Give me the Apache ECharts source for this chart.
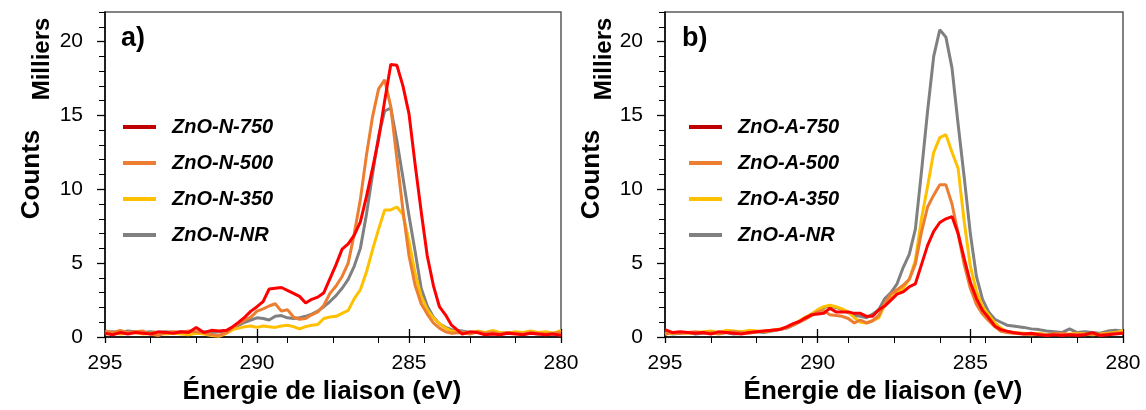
<!DOCTYPE html>
<html>
<head>
<meta charset="utf-8">
<script src="https://cdn.jsdelivr.net/npm/echarts@6.0.0/dist/echarts.min.js"></script>
<style>html,body{margin:0;padding:0;background:#fff;}#chart{width:1146px;height:410px;}</style>
</head>
<body>
<div id="chart"></div>
<script>
// Binding energy grid (eV)
const energy = [295,294.75,294.5,294.25,294,293.75,293.5,293.25,293,292.75,292.5,292.25,292,291.75,291.5,291.25,
  291,290.8,290.6,290.4,290.2,290,289.8,289.6,289.4,289.2,289,288.8,288.6,288.4,288.2,288,287.8,287.6,287.4,287.2,
  287,286.8,286.6,286.4,286.2,286,285.8,285.6,285.4,285.2,285,284.8,284.6,284.4,284.2,284,283.8,283.6,
  283.25,283,282.75,282.5,282.25,282,281.75,281.5,281.25,281,280.75,280.5,280.25,280];

// Panel a) ZnO-N (thousands of counts)
const n750 = [0.25,0.15,0.3,0.2,0.3,0.25,0.2,0.35,0.3,0.25,0.35,0.3,0.65,0.3,0.45,0.4,
  0.45,0.7,1.0,1.35,1.75,2.05,2.4,3.25,3.3,3.35,3.15,2.95,2.75,2.3,2.55,2.7,3.0,3.95,4.9,5.95,
  6.3,6.9,7.8,9.5,11.4,13.4,16.0,18.45,18.4,17.0,15.1,11.7,8.5,5.5,3.5,2.05,1.5,0.8,
  0.2,0.35,0.3,0.15,0.2,0.15,0.25,0.2,0.15,0.25,0.2,0.15,0.2,0.1];
const n500 = [0.4,0.3,0.45,0.3,0.35,0.4,0.2,0.1,0.3,0.35,0.3,0.4,0.35,0.3,0.15,0.1,
  0.3,0.65,0.9,1.15,1.35,1.75,1.9,2.1,2.25,1.75,1.85,1.35,1.2,1.25,1.5,1.7,2.15,2.95,3.45,4.1,
  5.0,7.0,9.3,12.3,14.9,16.8,17.4,15.6,12.1,8.6,5.5,3.5,2.25,1.55,0.95,0.6,0.35,0.25,
  0.3,0.2,0.35,0.25,0.3,0.2,0.3,0.25,0.2,0.3,0.25,0.2,0.25,0.3];
const n350 = [0.2,0.3,0.2,0.25,0.3,0.2,0.25,0.3,0.2,0.25,0.2,0.15,0.25,0.2,0.1,0.05,
  0.25,0.5,0.6,0.7,0.75,0.65,0.75,0.7,0.65,0.75,0.8,0.7,0.55,0.7,0.8,0.85,1.25,1.35,1.4,1.6,
  1.8,2.6,3.2,4.4,5.9,7.3,8.6,8.6,8.8,8.3,6.5,4.3,2.75,1.85,1.3,0.9,0.6,0.4,
  0.3,0.25,0.4,0.3,0.45,0.3,0.25,0.35,0.3,0.4,0.3,0.35,0.25,0.45];
const nNR = [0.3,0.35,0.3,0.4,0.35,0.3,0.35,0.3,0.35,0.3,0.35,0.3,0.3,0.35,0.3,0.35,
  0.4,0.55,0.8,1.0,1.15,1.3,1.25,1.15,1.4,1.45,1.3,1.25,1.3,1.4,1.55,1.75,2.05,2.4,2.8,3.3,
  3.9,4.8,6.0,8.3,11.0,13.6,15.3,15.5,13.3,10.8,8.2,5.8,3.3,2.1,1.35,0.9,0.65,0.5,
  0.4,0.3,0.35,0.25,0.3,0.25,0.3,0.25,0.2,0.25,0.2,0.25,0.2,0.2];

// Panel b) ZnO-A (thousands of counts)
const a750 = [0.5,0.3,0.35,0.3,0.25,0.3,0.2,0.35,0.3,0.25,0.2,0.3,0.35,0.4,0.45,0.5,
  0.7,0.9,1.05,1.3,1.5,1.55,1.6,1.95,1.7,1.7,1.7,1.6,1.6,1.4,1.4,1.85,2.1,2.5,2.9,3.05,
  3.4,3.6,4.9,6.2,7.15,7.75,8.0,8.15,7.0,5.3,3.7,2.6,1.8,1.3,0.75,0.5,0.4,0.3,
  0.2,0.25,0.15,0.1,0.15,0.1,0.15,0.1,0.15,0.3,0.1,0.15,0.2,0.25];
const a500 = [0.2,0.3,0.25,0.3,0.35,0.25,0.3,0.2,0.3,0.35,0.3,0.25,0.35,0.4,0.45,0.5,
  0.65,0.8,1.0,1.2,1.45,1.7,1.8,1.5,1.45,1.4,1.25,0.95,1.15,0.95,1.1,1.45,2.3,2.9,3.2,3.5,
  3.9,4.95,7.1,8.8,9.6,10.3,10.3,9.0,7.0,4.9,3.3,2.2,1.55,1.1,0.7,0.38,0.3,0.25,
  0.2,0.15,0.2,0.15,0.2,0.25,0.15,0.2,0.15,0.2,0.15,0.2,0.25,0.3];
const a350 = [0.2,0.25,0.3,0.25,0.3,0.35,0.4,0.3,0.45,0.4,0.35,0.45,0.4,0.35,0.45,0.55,
  0.65,0.85,1.1,1.35,1.55,1.85,2.05,2.15,2.05,1.9,1.7,1.3,1.0,0.95,1.1,1.3,2.2,2.6,3.0,3.3,
  3.9,5.2,8.0,10.2,12.5,13.5,13.7,12.5,11.4,7.8,4.8,3.1,2.05,1.5,0.95,0.6,0.35,0.3,
  0.25,0.2,0.25,0.15,0.2,0.15,0.2,0.25,0.2,0.15,0.2,0.25,0.3,0.45];
const aNR = [0.3,0.2,0.25,0.3,0.2,0.25,0.3,0.25,0.3,0.2,0.25,0.3,0.35,0.3,0.4,0.5,
  0.6,0.8,1.05,1.3,1.55,1.8,2.0,2.1,2.0,1.85,1.65,1.45,1.4,1.3,1.55,1.85,2.6,3.0,3.6,4.7,
  5.6,7.3,11.2,15.3,19.0,20.8,20.3,18.2,14.4,10.8,7.0,4.1,2.55,1.7,1.2,1.0,0.8,0.75,
  0.65,0.55,0.5,0.4,0.35,0.3,0.55,0.3,0.35,0.3,0.25,0.4,0.45,0.4];

// Axis ticks / labels
const xMajor = [295, 290, 285, 280];
const xMinor = [295, 293.5, 292, 290.5, 289, 287.5, 286, 284.5, 283, 281.5, 280];
const yMajor = [0, 5, 10, 15, 20];
const yMinor = [0,1,2,3,4,5,6,7,8,9,10,11,12,13,14,15,16,17,18,19,20,21,22];

const namesN = ['ZnO-N-750', 'ZnO-N-500', 'ZnO-N-350', 'ZnO-N-NR'];
const namesA = ['ZnO-A-750', 'ZnO-A-500', 'ZnO-A-350', 'ZnO-A-NR'];
const lineColors = ['#ff0000', '#ed7d31', '#ffc000', '#808080'];
const legendColors = ['#c00000', '#ed7d31', '#ffc000', '#808080'];

const FONT = 'Liberation Sans';

function xAxes(g) {
  const base = {type: 'value', gridIndex: g, min: 280, max: 295, inverse: true, position: 'bottom',
    splitLine: {show: false}};
  return [
    Object.assign({}, base, {
      interval: 5,
      axisLine: {show: true, onZero: false, lineStyle: {color: '#000', width: 1.5}},
      axisTick: {show: true, customValues: xMajor, length: 6, inside: false, lineStyle: {color: '#000', width: 1.3}},
      axisLabel: {customValues: xMajor, margin: 16, fontSize: 21, color: '#000', fontFamily: FONT},
      name: 'Énergie de liaison (eV)', nameLocation: 'middle', nameGap: 42,
      nameTextStyle: {fontSize: 26, fontWeight: 'bold', color: '#000', fontFamily: FONT, padding: [0, 22, 0, 0]}
    }),
    Object.assign({}, base, {
      axisLine: {show: false, onZero: false},
      axisTick: {show: true, customValues: xMajor, length: 8, inside: true, lineStyle: {color: '#000', width: 1.3}},
      axisLabel: {show: false}
    }),
    Object.assign({}, base, {
      axisLine: {show: false, onZero: false},
      axisTick: {show: true, customValues: xMinor, length: 6, inside: false, lineStyle: {color: '#000', width: 1}},
      axisLabel: {show: false}
    })
  ];
}
function yAxes(g) {
  const base = {type: 'value', gridIndex: g, min: 0, max: 22, position: 'left', splitLine: {show: false}};
  return [
    Object.assign({}, base, {
      interval: 5,
      axisLine: {show: true, onZero: false, lineStyle: {color: '#000', width: 1.5}},
      axisTick: {show: true, customValues: yMajor, length: 8, lineStyle: {color: '#000', width: 1.3}},
      axisLabel: {customValues: yMajor, margin: 22, fontSize: 21, color: '#000', fontFamily: FONT},
      name: 'Counts', nameLocation: 'middle', nameGap: 60,
      nameTextStyle: {fontSize: 26, fontWeight: 'bold', color: '#000', fontFamily: FONT}
    }),
    Object.assign({}, base, {
      axisLine: {show: false, onZero: false},
      axisTick: {show: true, customValues: yMinor, length: 6, lineStyle: {color: '#000', width: 1}},
      axisLabel: {show: false}
    })
  ];
}

function buildSeries(names, arrays, xi, yi) {
  // draw order: NR, 350, 500, 750 (750 on top)
  const order = [3, 2, 1, 0];
  return order.map(k => ({
    type: 'line', name: names[k], xAxisIndex: xi, yAxisIndex: yi,
    data: energy.map((e, i) => [e, arrays[k][i]]),
    showSymbol: false, symbol: 'none', smooth: false,
    lineStyle: {color: lineColors[k], width: 3},
    itemStyle: {color: lineColors[k]},
    z: 3 + (3 - k)
  }));
}

function legend(names, left) {
  return {
    orient: 'vertical', left: left, top: 117, padding: 0, icon: 'rect', itemWidth: 33, itemHeight: 4, itemGap: 16,
    selectedMode: false,
    data: names.map((n, i) => ({name: n, itemStyle: {color: legendColors[i]}})),
    textStyle: {fontFamily: FONT, fontSize: 20, fontWeight: 'bold', fontStyle: 'italic', color: '#000',
      lineHeight: 20, padding: [0, 0, 0, 11]}
  };
}

const chart = echarts.init(document.getElementById('chart'), null, {renderer: 'canvas'});
chart.setOption({
  animation: false,
  backgroundColor: '#fff',
  grid: [
    {left: 105, top: 12, width: 456, height: 327, show: true, borderColor: '#595959', borderWidth: 1.5},
    {left: 665, top: 12, width: 458, height: 327, show: true, borderColor: '#595959', borderWidth: 1.5}
  ],
  xAxis: xAxes(0).concat(xAxes(1)),
  yAxis: yAxes(0).concat(yAxes(1)),
  legend: [legend(namesN, 123), legend(namesA, 689)],
  graphic: [
    {type: 'text', x: 121, y: 39, z: 10, style: {text: 'a)', font: 'bold 27px "Liberation Sans"', fill: '#000', align: 'left', verticalAlign: 'middle', textAlign: 'left', textVerticalAlign: 'middle'}},
    {type: 'text', x: 682, y: 39, z: 10, style: {text: 'b)', font: 'bold 27px "Liberation Sans"', fill: '#000', align: 'left', verticalAlign: 'middle', textAlign: 'left', textVerticalAlign: 'middle'}},
    {type: 'text', x: 42, y: 59, rotation: Math.PI / 2, z: 10, style: {text: 'Milliers', font: 'bold 24px "Liberation Sans"', fill: '#000', align: 'center', verticalAlign: 'middle', textAlign: 'center', textVerticalAlign: 'middle'}},
    {type: 'text', x: 604, y: 59, rotation: Math.PI / 2, z: 10, style: {text: 'Milliers', font: 'bold 24px "Liberation Sans"', fill: '#000', align: 'center', verticalAlign: 'middle', textAlign: 'center', textVerticalAlign: 'middle'}}
  ],
  series: buildSeries(namesN, [n750, n500, n350, nNR], 0, 0)
    .concat(buildSeries(namesA, [a750, a500, a350, aNR], 3, 2))
});
</script>
</body>
</html>
